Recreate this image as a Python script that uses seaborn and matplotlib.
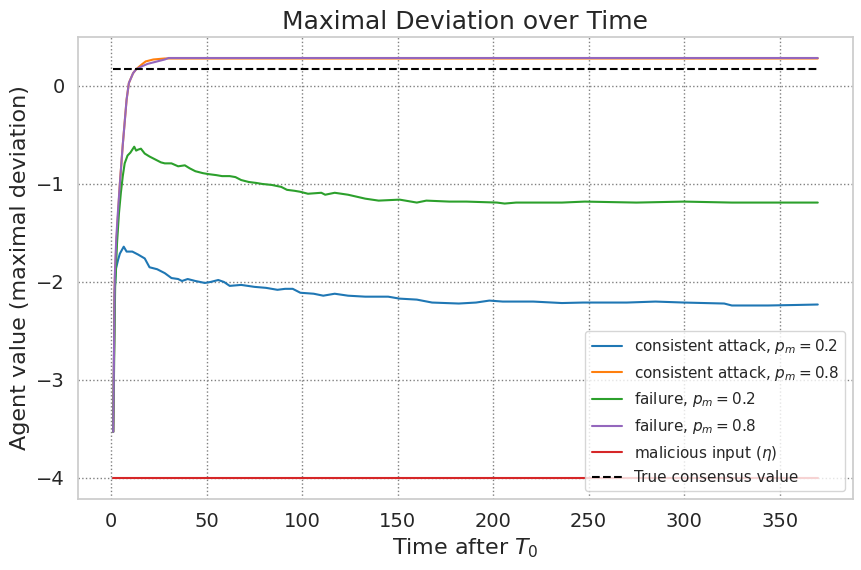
import matplotlib
matplotlib.use("Agg")
import matplotlib.pyplot as plt
import seaborn as sns

# --- Daten ---
t_ca02 = [1, 1.7, 2.5, 3.6, 4.5, 6.5, 8, 11, 14, 17.5, 20, 24, 28, 31.5, 35, 37, 40, 44, 49, 52,
          56, 59, 62, 68, 75, 81, 87, 91, 95, 99, 106, 111, 117, 124, 133, 145, 151, 160,
          168, 182, 191, 198, 205, 221, 236, 247, 270, 285, 300, 321, 325, 344, 358, 370]
y_ca02 = [-3.53, -2.1, -1.86, -1.77, -1.71, -1.64, -1.69, -1.69, -1.72, -1.76, -1.85, -1.87,
          -1.91, -1.96, -1.97, -1.99, -1.97, -1.99, -2.01, -2.0, -1.98, -2.0, -2.04, -2.03,
          -2.05, -2.06, -2.08, -2.07, -2.07, -2.11, -2.12, -2.14, -2.12, -2.14, -2.15, -2.15,
          -2.17, -2.18, -2.21, -2.22, -2.21, -2.19, -2.2, -2.2, -2.215, -2.21, -2.21, -2.20,
          -2.21, -2.22, -2.24, -2.24, -2.235, -2.23]

t_ca08 = [1, 1.8, 2.6, 3.4, 4.5, 6, 8, 9.2, 11.4, 13, 16, 18, 22, 28, 370]
y_ca08 = [-3.53, -2.0, -1.62, -1.35, -0.99, -0.6, -0.14, 0.03, 0.13, 0.17, 0.22, 0.25,
          0.27, 0.28, 0.28]

t_f02 = [1, 2, 3, 4, 5, 6, 7, 8.5, 10, 12, 13, 14, 15.5, 17.5, 20, 23, 26, 28, 31.5,
         35, 38.5, 41, 44, 48, 51, 55, 58, 62, 65, 68, 72, 76, 79, 84, 89, 92, 96, 99, 103,
         110, 112, 117, 124, 133, 140, 151, 160, 165, 177, 186, 202, 206, 212, 223, 236,
         248, 275, 300, 325, 350, 370]
y_f02 = [-3.53, -2.05, -1.6, -1.3, -1.09, -0.92, -0.79, -0.71, -0.68, -0.62, -0.66,
         -0.65, -0.64, -0.69, -0.72, -0.75, -0.78, -0.79, -0.79, -0.82, -0.81, -0.84, -0.87,
         -0.89, -0.9, -0.91, -0.92, -0.92, -0.93, -0.96, -0.98, -0.99, -1.0, -1.01, -1.03,
         -1.06, -1.07, -1.08, -1.10, -1.09, -1.11, -1.09, -1.11, -1.15, -1.17, -1.16, -1.19,
         -1.17, -1.18, -1.18, -1.19, -1.2, -1.19, -1.19, -1.19, -1.18, -1.19, -1.18, -1.19,
         -1.19, -1.19]

t_f08 = [1, 1.8, 2.6, 3.4, 4.5, 6, 8, 9.2, 11.4, 13, 16, 19, 23, 26, 28, 30, 370]
y_f08 = [-3.53, -1.95, -1.55, -1.3, -0.99, -0.6, -0.14, 0.03, 0.13, 0.17, 0.20, 0.225,
         0.245, 0.26, 0.27, 0.285, 0.285]

t_eta = [1, 370]
y_eta = [-4, -4]

t_true = [1, 370]
y_true = [0.17, 0.17]

sns.set_theme(style="whitegrid")
plt.rcParams['font.family'] = ['DejaVu Sans']

fig = plt.figure(figsize=(8.62, 5.7), dpi=100)
ax = fig.add_axes([78 / 862, 1 - 499 / 570, 775 / 862, 462 / 570])

sns.lineplot(x=t_ca02, y=y_ca02, color="#1f77b4", linewidth=1.5,
             label=r"consistent attack, $p_m = 0.2$", ax=ax)
sns.lineplot(x=t_ca08, y=y_ca08, color="#ff7f0e", linewidth=1.5,
             label=r"consistent attack, $p_m = 0.8$", ax=ax)
sns.lineplot(x=t_f02, y=y_f02, color="#2ca02c", linewidth=1.5,
             label=r"failure, $p_m = 0.2$", ax=ax)
sns.lineplot(x=t_f08, y=y_f08, color="#9467bd", linewidth=1.5,
             label=r"failure, $p_m = 0.8$", ax=ax)
sns.lineplot(x=t_eta, y=y_eta, color="#d62728", linewidth=1.5,
             label=r"malicious input ($\eta$)", ax=ax)
sns.lineplot(x=t_true, y=y_true, color="black", linewidth=1.5, linestyle="--",
             label="True consensus value", ax=ax)

ax.grid(True, linestyle=":", color="gray", linewidth=1)
ax.set_title("Maximal Deviation over Time", fontsize=18)
ax.set_xlabel(r"Time after $T_0$", fontsize=16)
ax.set_ylabel("Agent value (maximal deviation)", fontsize=16)
ax.tick_params(labelsize=14)
ax.legend(loc="lower right", fontsize=11)

fig.savefig("out.png", dpi=100)
